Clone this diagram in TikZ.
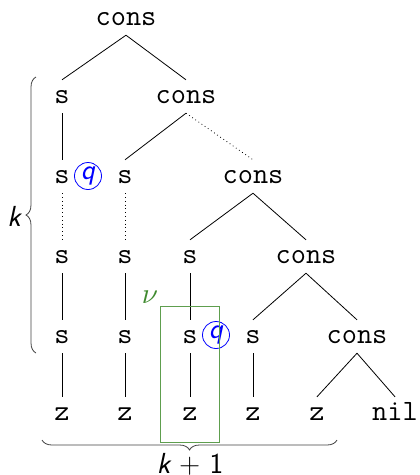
\documentclass[tikz,border=0pt]{standalone}
\usepackage{graphicx}
\usepackage{fontspec}
\usetikzlibrary{decorations.pathreplacing}
\definecolor{boxgreen}{HTML}{5E9E4E}
\definecolor{nugreen}{HTML}{3F8A2F}
\begin{document}
\begin{tikzpicture}[x=1pt,y=-1pt,
  term/.style={font=\fontsize{29.5}{30}\selectfont\ttfamily, anchor=base,
    inner xsep=3pt, inner ysep=10pt, text height=13pt, text depth=0pt},
  edge/.style={line width=0.8pt},
  dotedge/.style={line width=0.8pt, dash pattern=on 0.8pt off 3pt},
  qmark/.style={circle, draw=blue, text=blue, line width=0.8pt, inner sep=0pt,
    minimum size=27pt, font=\fontsize{29}{29}\selectfont\sffamily\slshape},
  bracelabel/.style={font=\fontsize{29}{30}\selectfont\sffamily, inner sep=0pt},
  bracedraw/.style={black!75, line width=0.8pt, decorate, decoration={brace, amplitude=10pt}}]
\useasboundingbox (0,0) rectangle (420,475);

% spine of the list
\node[term] (c1) at (126,25) {cons};
\node[term] (a2) at (62,103) {s};
\node[term] (c2) at (186,103) {cons};
\node[term] (a3) at (62,183) {s};
\node[term] (b3) at (125,183) {s};
\node[term] (c3) at (253,183) {cons};
\node[term] (a4) at (62,263) {s};
\node[term] (b4) at (125,263) {s};
\node[term] (d4) at (190,263) {s};
\node[term] (c4) at (306,263) {cons};
\node[term] (a5) at (62,343) {s};
\node[term] (b5) at (125,343) {s};
\node[term] (d5) at (190,343) {s};
\node[term] (e5) at (253,343) {s};
\node[term] (c5) at (357,343) {cons};
\node[term] (a6) at (62,420) {z};
\node[term] (b6) at (125,420) {z};
\node[term] (d6) at (190,420) {z};
\node[term] (e6) at (253,420) {z};
\node[term] (f6) at (317,420) {z};
\node[term] (n6) at (395,420) {nil};

% cons edges
\draw[edge] (c1.south) -- (a2.north);
\draw[edge] (c1.south) -- (c2.north);
\draw[edge] (c2.south) -- (b3.north);
\draw[dotedge] (c2.south) -- (c3.north);
\draw[edge] (c3.south) -- (d4.north);
\draw[edge] (c3.south) -- (c4.north);
\draw[edge] (c4.south) -- (e5.north);
\draw[edge] (c4.south) -- (c5.north);
\draw[edge] (c5.south) -- (f6.north);
\draw[edge] (c5.south) -- (n6.north);

% successor chains
\draw[edge] (a2) -- (a3);
\draw[dotedge] (a3) -- (a4);
\draw[edge] (a4) -- (a5);
\draw[edge] (a5) -- (a6);
\draw[dotedge] (b3) -- (b4);
\draw[edge] (b4) -- (b5);
\draw[edge] (b5) -- (b6);
\draw[edge] (d4) -- (d5);
\draw[edge] (d5) -- (d6);
\draw[edge] (e5) -- (e6);

% state markers
\node[qmark] (q1) at (88,176) {q};
\node[qmark] (q2) at (216,335) {q};

% highlighted subterm
\coordinate (boxtl) at (160,306);
\coordinate (boxbr) at (219,442);
\draw[boxgreen, line width=0.8pt] (boxtl) rectangle (boxbr);
\node[text=nugreen, inner sep=0pt] (nu) at (150,297) {\scalebox{2.9}{$\nu$}};

% braces
\coordinate (lbtop) at (36,77);
\coordinate (lbbot) at (36,353);
\draw[bracedraw] (lbbot) -- (lbtop);
\node[bracelabel] (k) at (14,216) {\slshape k};
\coordinate (bbleft) at (42,440);
\coordinate (bbright) at (337,440);
\draw[bracedraw] (bbright) -- (bbleft);
\node[bracelabel, anchor=base] (k1) at (190,473) {{\slshape k} + 1};
\end{tikzpicture}
\end{document}
